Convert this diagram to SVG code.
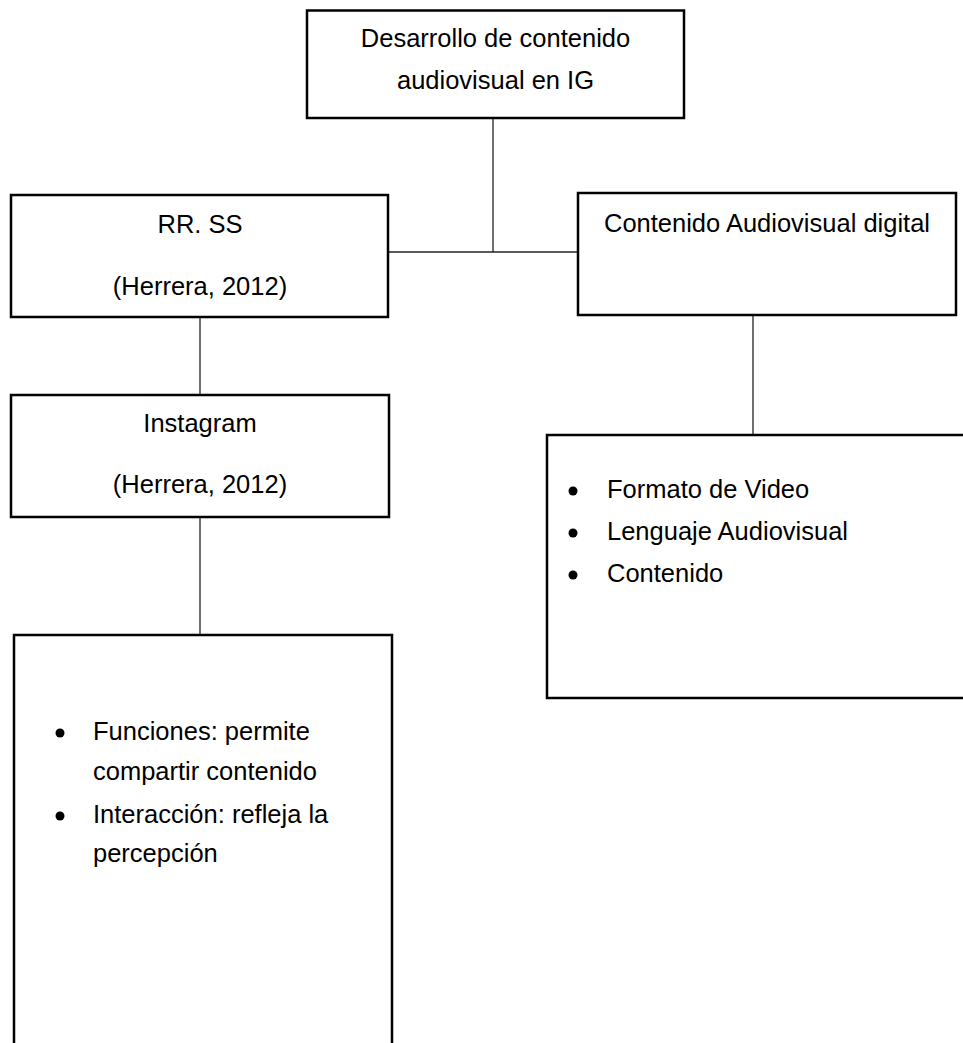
<svg xmlns="http://www.w3.org/2000/svg" width="963" height="1043" viewBox="0 0 963 1043">
<style>
.box{fill:#fff;stroke:#000;stroke-width:2.5}
.conn{stroke:#222;stroke-width:1.3;fill:none}
text{font-family:"Liberation Sans",Arial,sans-serif;font-size:25.5px;fill:#000}
.c{text-anchor:middle}
</style>
<rect width="963" height="1043" fill="#fff"/>
<g id="connectors">
<line class="conn" x1="493" y1="118" x2="493" y2="252"/>
<line class="conn" x1="388" y1="252" x2="578" y2="252"/>
<line class="conn" x1="200" y1="317" x2="200" y2="395"/>
<line class="conn" x1="753" y1="315" x2="753" y2="435"/>
<line class="conn" x1="200" y1="517" x2="200" y2="635"/>
</g>
<g id="n-desarrollo">
<rect class="box" x="307" y="10.5" width="377" height="107.5"/>
<text class="c" x="495.5" y="47">Desarrollo de contenido</text>
<text class="c" x="495.5" y="89">audiovisual en IG</text>
</g>
<g id="n-rrss">
<rect class="box" x="11" y="195" width="377" height="122"/>
<text class="c" x="200" y="233">RR. SS</text>
<text class="c" x="200" y="295">(Herrera, 2012)</text>
</g>
<g id="n-contenido">
<rect class="box" x="578" y="193" width="378" height="122"/>
<text class="c" x="767" y="232">Contenido Audiovisual digital</text>
</g>
<g id="n-instagram">
<rect class="box" x="11" y="395" width="378" height="122"/>
<text class="c" x="200" y="432">Instagram</text>
<text class="c" x="200" y="493">(Herrera, 2012)</text>
</g>
<g id="n-formatos">
<rect class="box" x="547" y="435" width="430" height="263"/>
<circle cx="573" cy="491" r="4.5"/>
<text x="607" y="498">Formato de Video</text>
<circle cx="573" cy="533" r="4.5"/>
<text x="607" y="540">Lenguaje Audiovisual</text>
<circle cx="573" cy="575" r="4.5"/>
<text x="607" y="582">Contenido</text>
</g>
<g id="n-funciones">
<rect class="box" x="14" y="635" width="378" height="430"/>
<circle cx="60" cy="733" r="4.5"/>
<text x="93" y="740">Funciones: permite</text>
<text x="93" y="780">compartir contenido</text>
<circle cx="60" cy="816" r="4.5"/>
<text x="93" y="823">Interacción: refleja la</text>
<text x="93" y="862">percepción</text>
</g>
</svg>
